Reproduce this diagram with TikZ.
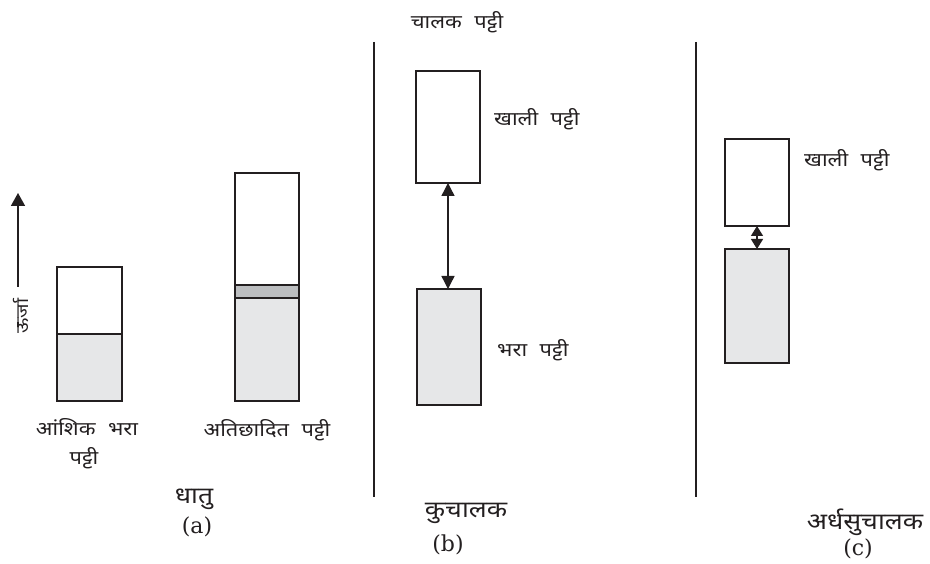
\documentclass[tikz,border=0pt]{standalone}
\usepackage{fontspec}
\newfontfamily\dev[Script=Devanagari,FakeStretch=1.15,WordSpace=2.2]{Noto Sans}
\newfontfamily\tagfont{DejaVu Serif}
\usetikzlibrary{arrows.meta}
\definecolor{linec}{HTML}{231F20}
\definecolor{fillc}{HTML}{E6E7E8}
\definecolor{bandc}{HTML}{BCBEC0}
\begin{document}
\begin{tikzpicture}[x=1pt,y=-1pt,
  box/.style={draw=linec,line width=1.6pt,inner sep=0pt,outer sep=0pt,anchor=north west},
  lbl/.style={font=\dev\fontsize{19}{22}\selectfont,text=linec,inner sep=0pt},
  big/.style={font=\dev\fontsize{23}{27}\selectfont,text=linec,inner sep=0pt},
  tag/.style={font=\tagfont\fontsize{22}{26}\selectfont,text=linec,inner sep=0pt},
  sep/.style={draw=linec,line width=1.8pt},
  arr/.style={draw=linec,line width=1.4pt,{Triangle[width=13pt,length=13pt]}-{Triangle[width=13pt,length=13pt]}},
  sarr/.style={draw=linec,line width=1.4pt,{Triangle[width=12pt,length=10pt]}-{Triangle[width=12pt,length=10pt]}}]
\useasboundingbox (0,0) rectangle (930,564);
% energy arrow
\coordinate (e0) at (18,287);
\coordinate (e1) at (18,193);
\draw[draw=linec,line width=1.6pt,-{Triangle[width=14pt,length=13pt]}] (e0) -- (e1);
\node[lbl,font=\dev\fontsize{17}{20}\selectfont,rotate=90] (energy) at (21,316) {ऊर्जा};
% (a) metal, partially filled
\node[box,fill=white,minimum width=65pt,minimum height=67pt] (a1t) at (57,267) {};
\node[box,fill=fillc,minimum width=65pt,minimum height=67pt] (a1b) at (57,334) {};
% (a) overlapping
\node[box,fill=white,minimum width=64pt,minimum height=112pt] (a2t) at (235,173) {};
\node[box,fill=bandc,minimum width=64pt,minimum height=13pt] (a2m) at (235,285) {};
\node[box,fill=fillc,minimum width=64pt,minimum height=103pt] (a2b) at (235,298) {};
\node[lbl] (l1) at (87,427) {आंशिक भरा};
\node[lbl] (l2) at (84,458) {पट्टी};
\node[lbl] (l3) at (267,430) {अतिछादित पट्टी};
\node[big] (metal) at (194,499) {धातु};
\node[tag] (ta) at (197,527) {(a)};
% separators
\coordinate (s1a) at (374,42); \coordinate (s1b) at (374,497);
\coordinate (s2a) at (696,42); \coordinate (s2b) at (696,497);
\draw[sep] (s1a) -- (s1b);
\draw[sep] (s2a) -- (s2b);
% (b) insulator
\node[box,fill=white,minimum width=64pt,minimum height=112pt] (bt) at (416,71) {};
\node[box,fill=fillc,minimum width=64pt,minimum height=116pt] (bb) at (417,289) {};
\draw[arr] (bt.south) -- (bt.south |- bb.north);
\node[lbl] (cb) at (457,22) {चालक पट्टी};
\node[lbl,anchor=west] (eb) at (494,119) {खाली पट्टी};
\node[lbl,anchor=west] (fb) at (497,350) {भरा पट्टी};
\node[big] (ins) at (466,513) {कुचालक};
\node[tag] (tb) at (448,545) {(b)};
% (c) semiconductor
\node[box,fill=white,minimum width=64pt,minimum height=87pt] (ct) at (725,139) {};
\node[box,fill=fillc,minimum width=64pt,minimum height=114pt] (cbx) at (725,249) {};
\draw[sarr] (ct.south) -- (cbx.north);
\node[lbl,anchor=west] (ec) at (804,160) {खाली पट्टी};
\node[big] (semi) at (865,522) {अर्धसुचालक};
\node[tag] (tc) at (858,549) {(c)};
\end{tikzpicture}
\end{document}
